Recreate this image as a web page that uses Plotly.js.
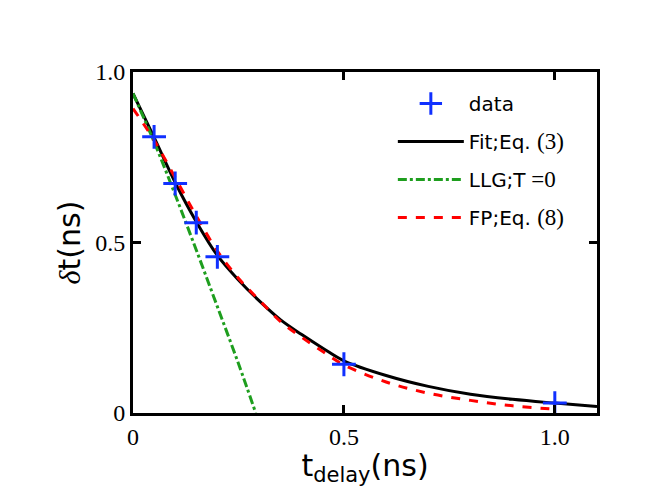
<!DOCTYPE html>
<html>
<head>
<meta charset="utf-8">
<script src="https://cdn.plot.ly/plotly-3.0.1.min.js"></script>
<style>
  html, body { margin: 0; padding: 0; background: #fff; }
  #chart { width: 664px; height: 487px; }
</style>
</head>
<body>
<div id="chart"></div>
<script>
// measured switching data
var dataT = [0.05, 0.1, 0.15, 0.2, 0.5, 1.0];
var dataDt = [0.81, 0.673, 0.558, 0.458, 0.143, 0.029];

// fit, Eq. (3)
var fitT = [0, 0.05, 0.1, 0.15, 0.2, 0.25, 0.3, 0.35, 0.4, 0.45, 0.5, 0.6, 0.7, 0.8, 0.9, 1.0, 1.1];
var fitDt = [0.937, 0.808, 0.676, 0.561, 0.462, 0.39, 0.328, 0.273, 0.23, 0.19, 0.153, 0.11, 0.078, 0.055, 0.04, 0.029, 0.019];

// LLG, T = 0
var llgT = [0, 0.05, 0.1, 0.15, 0.2, 0.25, 0.291];
var llgDt = [0.937, 0.795, 0.64, 0.478, 0.312, 0.145, 0];

// Fokker-Planck, Eq. (8)
var fpT = [0, 0.05, 0.1, 0.15, 0.2, 0.25, 0.3, 0.35, 0.4, 0.45, 0.5, 0.6, 0.7, 0.8, 0.9, 1.0];
var fpDt = [0.893, 0.8, 0.69, 0.578, 0.475, 0.395, 0.33, 0.268, 0.222, 0.18, 0.141, 0.091, 0.058, 0.037, 0.021, 0.011];

var tickVals = [0, 0.5, 1.0];
var tickText = ["0", "0.5", "1.0"];

var serif = "'Liberation Serif', serif";
var sans = "'DejaVu Sans', sans-serif";
function num(s) {
  return "<span style=\"font-family:Liberation Serif;font-size:23px\">" + s + "</span>";
}

var traces = [
  {
    x: fitT, y: fitDt, mode: "lines", type: "scatter",
    name: "Fit;Eq. " + num("(3)"), legendgroup: "b", legendrank: 2,
    line: { color: "#000000", width: 3, shape: "spline" }
  },
  {
    x: llgT, y: llgDt, mode: "lines", type: "scatter",
    name: "LLG;T" + num(" =0"), legendgroup: "c", legendrank: 3,
    line: { color: "#1e9e1e", width: 3, dash: "dashdot", shape: "spline" }
  },
  {
    x: fpT, y: fpDt, mode: "lines", type: "scatter",
    name: "FP;Eq. " + num("(8)"), legendgroup: "d", legendrank: 4,
    line: { color: "#ff0000", width: 3, dash: "dash", shape: "spline" }
  },
  {
    x: dataT, y: dataDt, mode: "markers", type: "scatter",
    name: "data", legendgroup: "a", legendrank: 1,
    marker: { symbol: "cross-thin", size: 17, line: { color: "#1030ff", width: 3 } }
  }
];

var axisCommon = {
  showgrid: false, zeroline: false,
  showline: true, linecolor: "#000", linewidth: 3, mirror: "ticks",
  ticks: "inside", ticklen: 8, tickwidth: 3, tickcolor: "#000",
  tickmode: "array", tickvals: tickVals, ticktext: tickText,
  tickfont: { family: serif, size: 24, color: "#000" }
};

var layout = {
  width: 664, height: 487,
  margin: { l: 133, r: 67, t: 72, b: 74 },
  paper_bgcolor: "#fff", plot_bgcolor: "#fff",
  showlegend: true,
  legend: {
    x: 0.56, y: 0.965, xanchor: "left", yanchor: "top",
    bgcolor: "rgba(0,0,0,0)", borderwidth: 0,
    font: { family: sans, size: 20, color: "#000" },
    tracegroupgap: 9, itemwidth: 66,
    traceorder: "grouped"
  },
  xaxis: Object.assign({}, axisCommon, {
    range: [0, 1.1],
    title: { text: "t<sub>delay</sub>(ns)", font: { family: sans, size: 30, color: "#000" }, standoff: 4 }
  }),
  yaxis: Object.assign({}, axisCommon, {
    range: [0, 1.0],
    title: { text: "<span style=\"font-family:Liberation Serif\"><i>δ</i></span>t(ns)", font: { family: sans, size: 30, color: "#000" }, standoff: 6 }
  })
};

Plotly.newPlot("chart", traces, layout, { staticPlot: true });
</script>
</body>
</html>
